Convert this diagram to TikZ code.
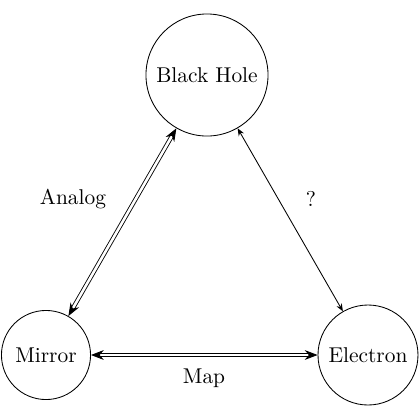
\documentclass[tikz,border=0pt]{standalone}
\usetikzlibrary{arrows.meta}
\begin{document}
\begin{tikzpicture}[x=0.467pt,y=-0.467pt,
  ent/.style={draw, circle, inner sep=0pt, line width=0.4pt},
  dbl/.style={double, double distance=1.2pt, line width=0.4pt, {Stealth[length=6pt,width=4.6pt]}-{Stealth[length=6pt,width=4.6pt]}},
  sgl/.style={line width=0.4pt, {Stealth[length=3.5pt,width=2.8pt]}-{Stealth[length=3.5pt,width=2.8pt]}},
  lbl/.style={inner sep=0pt}]
\useasboundingbox (0,0) rectangle (420,420);
\node[ent, minimum size=57pt] (bh) at (207,75) {Black Hole};
\node[ent, minimum size=41.6pt] (mi) at (46,355) {Mirror};
\node[ent, minimum size=46.7pt] (el) at (368,355) {Electron};
\draw[dbl] (bh) -- (mi);
\draw[sgl] (bh) -- (el);
\draw[dbl] (mi) -- (el);
\node[lbl] (analog) at (73,199) {Analog};
\node[lbl] (q) at (311,199) {?};
\node[lbl] (map) at (204,378) {Map};
\end{tikzpicture}
\end{document}
